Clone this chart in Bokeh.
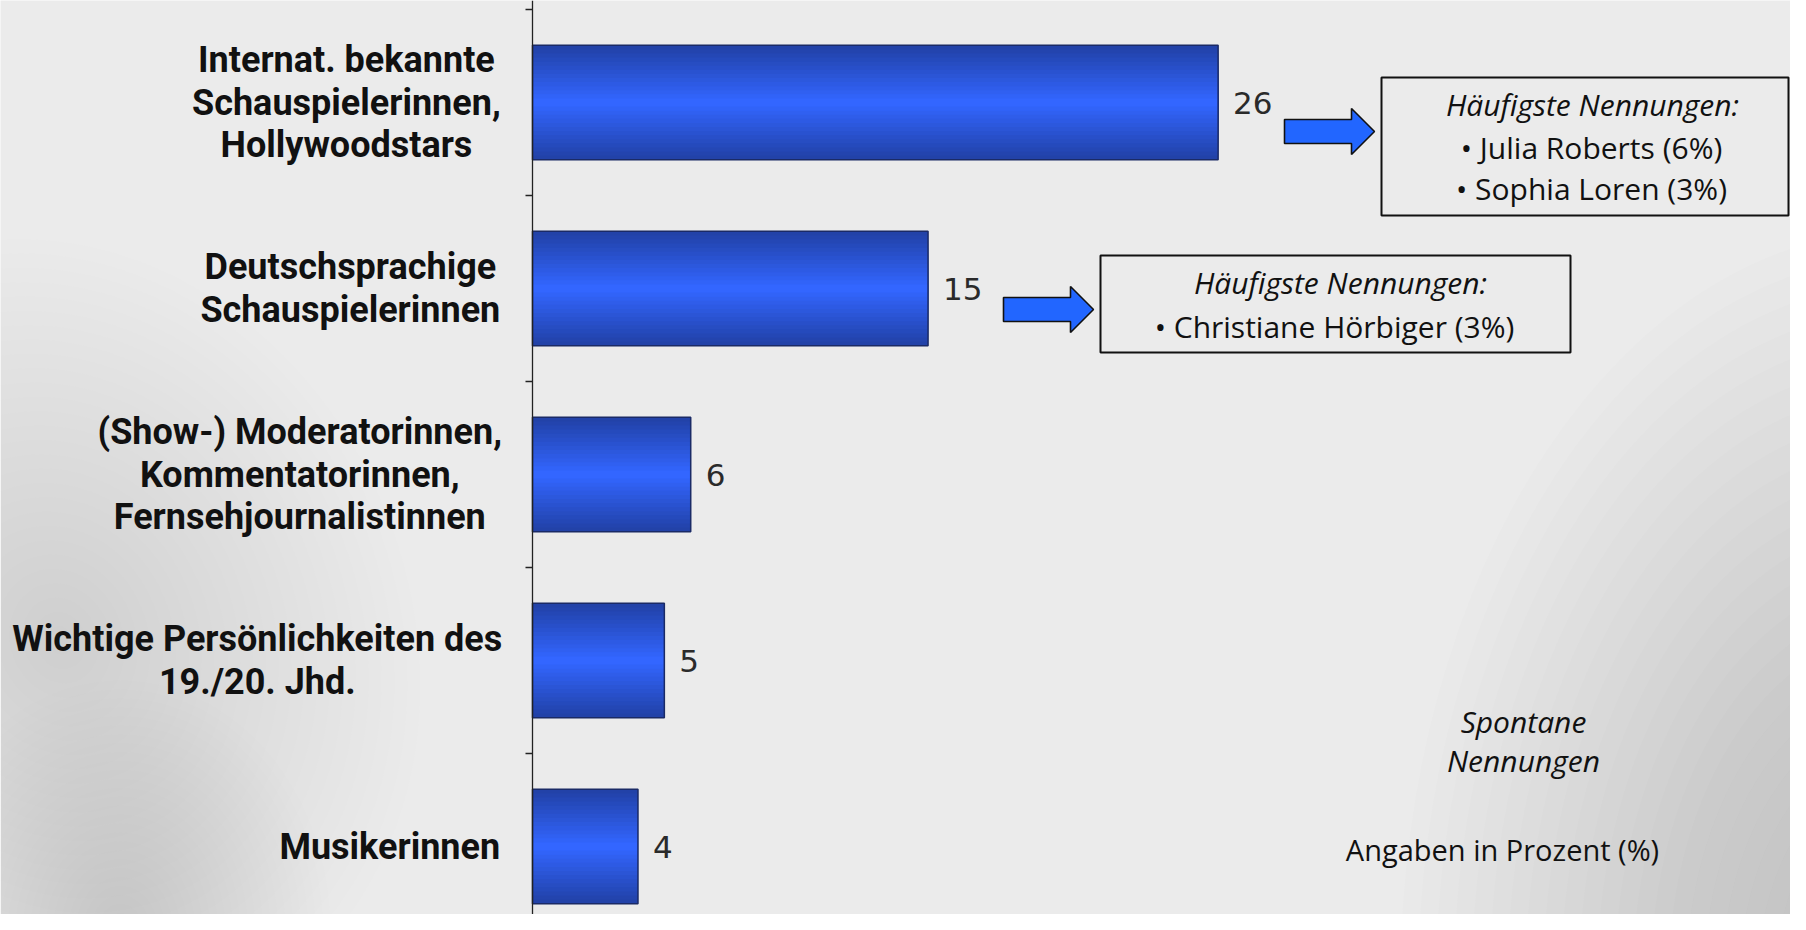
from bokeh.plotting import figure
from bokeh.models import Range1d, FixedTicker, ColumnDataSource, Label
from bokeh.core.properties import value
from bokeh.embed import file_html
from bokeh.resources import INLINE

# ---------------- data ----------------
categories = [
    "Internat. bekannte\nSchauspielerinnen,\nHollywoodstars",
    "Deutschsprachige\nSchauspielerinnen",
    "(Show-) Moderatorinnen,\nKommentatorinnen,\nFernsehjournalistinnen",
    "Wichtige Persönlichkeiten des\n19./20. Jhd.",
    "Musikerinnen",
]
values = [26, 15, 6, 5, 4]
value_labels = ["26", "15", "6", "5", "4"]

callout_title = "Häufigste Nennungen:"
callout1_items = ["• Julia Roberts (6%)", "• Sophia Loren (3%)"]
callout2_items = ["• Christiane Hörbiger (3%)"]
note_lines = ["Spontane", "Nennungen"]
unit_note = "Angaben in Prozent (%)"

# ---------------- geometry ----------------
W, H = 1790, 914
AXIS_SX = 532.0      # pixel x of value 0
PX_UNIT = 26.37      # px per percent
PX_CAT = 186.0       # px per category
Y_TOP = 0.5 - 9.0 / PX_CAT

def dx(sx):
    return (sx - AXIS_SX) / PX_UNIT

def dy(sy):
    return Y_TOP + sy / PX_CAT

ypos = [i + 1 for i in range(len(categories))]
boundaries = [i + 0.5 for i in range(len(categories) + 1)]

BG = "#ebebeb"
p = figure(width=W, height=H, output_backend="svg", toolbar_location=None,
           x_range=Range1d(dx(0), dx(W)),
           y_range=Range1d(dy(H), dy(0)),
           x_axis_type=None,
           min_border_left=0, min_border_right=0, min_border_top=0, min_border_bottom=0,
           background_fill_color=BG, border_fill_color=BG)
p.outline_line_color = None
p.grid.visible = False

# ---------------- soft background shading ----------------
def soft(cx, cy, w, h, color, alpha, n=28, angle=0.0):
    for i in range(n):
        f = 1 - i / n
        p.ellipse(x=dx(cx), y=dy(cy), width=w * f / PX_UNIT, height=h * f / PX_CAT,
                  angle=angle, fill_color=color, fill_alpha=alpha, line_color=None)

soft(1900, 980, 1000, 1500, "#888888", 0.018)
soft(60, 640, 700, 820, "#9a9a9a", 0.012, angle=0.4)
soft(120, 930, 420, 500, "#9a9a9a", 0.012)
soft(760, 60, 1500, 300, "#ffffff", 0.015)

# axis at value 0
ax = p.yaxis[0]
ax.fixed_location = 0
ax.ticker = FixedTicker(ticks=boundaries)
ax.major_label_text_alpha = 0
ax.major_label_text_font_size = "1px"
ax.major_tick_out = 7
ax.major_tick_in = 0
ax.minor_tick_line_color = None
ax.axis_line_color = "#222222"
ax.major_tick_line_color = "#222222"
ax.axis_line_width = 1.3
ax.major_tick_line_width = 1.3

# ---------------- bars with gradient ----------------
src = ColumnDataSource(dict(y=ypos, right=values, zero=[0] * len(values),
                            lab=value_labels))
BAR_H = 0.615
dark = (0x22, 0x42, 0xA8)
light = (0x33, 0x66, 0xFF)
N = 14
for i in range(N):
    t = i / (N - 1)
    c = tuple(int(dark[k] + (light[k] - dark[k]) * t) for k in range(3))
    col = "#%02x%02x%02x" % c
    p.hbar(y="y", left="zero", right="right", height=BAR_H * (1 - i / N), source=src,
           fill_color=col, line_color=None)
p.hbar(y="y", left="zero", right="right", height=BAR_H, source=src,
       fill_color=None, line_color="#1a2a66", line_width=1.5)

# value labels
p.text(x="right", y="y", text="lab", source=src, x_offset=15,
       text_align="left", text_baseline="middle", text_font=value("DejaVu Sans"),
       text_font_size="31px", text_color="#2a2a2a")

# ---------------- category labels: block right-aligned, lines centred ----------------
LABEL_PX = 36
LINE_PX = 42.6
GAP_PX = 34
_narrow = {" ": .25, ".": .27, ",": .22, "(": .35, ")": .35, "-": .28, "/": .42,
           "i": .25, "l": .25, "j": .25, "t": .33, "r": .35, "f": .35, "I": .28,
           "m": .88, "w": .75, "W": .87, "M": .87, "k": .51, "s": .51, "c": .52,
           "e": .53, "a": .54, "y": .49, "v": .5, "z": .5, "J": .55, "S": .61,
           "H": .7, "D": .66, "K": .63, "F": .55, "P": .63}

def est_width(line):
    return sum(_narrow.get(ch, .56) for ch in line) * LABEL_PX

lx, ly, lt, loff = [], [], [], []
for cat, yc in zip(categories, ypos):
    lines = cat.split("\n")
    bw = max(est_width(s) for s in lines)
    for j, s in enumerate(lines):
        lx.append(0)
        ly.append(yc + (j - (len(lines) - 1) / 2) * LINE_PX / PX_CAT)
        lt.append(s)
        loff.append(-(GAP_PX + bw / 2))
lsrc = ColumnDataSource(dict(x=lx, y=ly, t=lt, off=loff))
p.text(x="x", y="y", text="t", source=lsrc, x_offset="off",
       text_align="center", text_baseline="middle",
       text_font=value("Roboto"), text_font_style="bold",
       text_font_size=f"{LABEL_PX}px", text_color="#111111")

# ---------------- callouts ----------------
ARROW_FILL = "#2266ff"

def arrow(sx0, sy_mid):
    L, Hh, Hs, Lh = 90, 46, 24, 23
    xs = [sx0, sx0 + L - Lh, sx0 + L - Lh, sx0 + L, sx0 + L - Lh, sx0 + L - Lh, sx0]
    ys = [sy_mid - Hs / 2, sy_mid - Hs / 2, sy_mid - Hh / 2, sy_mid,
          sy_mid + Hh / 2, sy_mid + Hs / 2, sy_mid + Hs / 2]
    p.patch([dx(v) for v in xs], [dy(v) for v in ys], fill_color=ARROW_FILL,
            line_color="#111111", line_width=1.6)

def box(sx0, sx1, sy0, sy1):
    p.quad(left=dx(sx0), right=dx(sx1), top=dy(sy0), bottom=dy(sy1),
           fill_color=None, line_color="#111111", line_width=2)

def txt(sx, sy, s, italic=False, size="30px"):
    p.add_layout(Label(x=dx(sx), y=dy(sy), text=s, text_align="center",
                       text_baseline="middle", text_font="Open Sans",
                       text_font_style="italic" if italic else "normal",
                       text_font_size=size, text_color="#111111"))

arrow(1284, 131)
box(1381, 1788, 77, 215)
txt(1592, 104, callout_title, italic=True)
for i, s in enumerate(callout1_items):
    txt(1591, 147 + i * 41, s)

arrow(1003, 309)
box(1100, 1570, 255, 352)
txt(1340, 282, callout_title, italic=True)
for i, s in enumerate(callout2_items):
    txt(1334, 326 + i * 41, s)

for i, s in enumerate(note_lines):
    txt(1523, 721 + i * 39, s, italic=True)
txt(1502, 849, unit_note, size="29px")

open("out.html", "w").write(file_html(p, INLINE))
